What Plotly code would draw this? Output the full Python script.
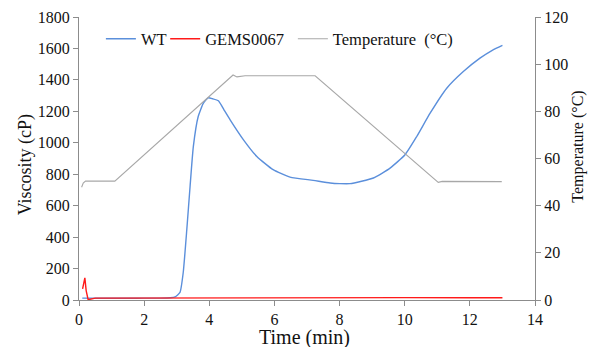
import plotly.graph_objects as go

# ---- data ----
wt_time = [0.1, 0.5, 1.0, 1.5, 2.0, 2.5, 2.8, 2.95, 3.1, 3.2, 3.31, 3.41, 3.51, 3.66, 3.82,
           3.97, 4.1, 4.28, 4.45, 4.64, 5.05, 5.46, 5.96, 6.48, 7.19, 7.71, 8.01, 8.32,
           9.04, 9.55, 10.01, 10.37, 10.78, 11.29, 11.80, 12.31, 12.7, 13.0]
wt_visc = [12, 11, 11, 11, 12, 12, 14, 20, 48, 175, 448, 722, 976, 1167, 1252,
           1286, 1280, 1267, 1210, 1146, 1019, 913, 829, 782, 761, 744, 740, 740,
           776, 839, 924, 1040, 1188, 1347, 1453, 1538, 1590, 1620]

gems_time = [0.11, 0.18, 0.22, 0.28, 0.5, 2.0, 4.0, 6.0, 8.0, 10.0, 12.0, 13.0]
gems_visc = [71, 141, 60, 2, 12, 13, 14, 16, 15, 15, 14, 14]

temp_time = [0.08, 0.13, 0.2, 0.6, 1.1, 4.73, 4.85, 5.1, 7.25, 11.03, 11.15, 12.98]
temp_val = [47.8, 49.6, 50.4, 50.5, 50.4, 95.4, 94.6, 95.1, 95.1, 49.9, 50.3, 50.2]

x_ticks = [0, 2, 4, 6, 8, 10, 12, 14]
y_ticks = [0, 200, 400, 600, 800, 1000, 1200, 1400, 1600, 1800]
y2_ticks = [0, 20, 40, 60, 80, 100, 120]

FONT = "Liberation Serif, Times New Roman, serif"
AX = "#8c8c8c"
TXT = "#111111"

fig = go.Figure()
fig.add_trace(go.Scatter(x=wt_time, y=wt_visc, mode="lines", name="WT",
                         line=dict(color="#5b8fdb", width=1.4, shape="spline", smoothing=0.5),
                         legend="legend"))
fig.add_trace(go.Scatter(x=gems_time, y=gems_visc, mode="lines", name="GEMS0067",
                         line=dict(color="#ff1a1a", width=1.4), legend="legend2"))
fig.add_trace(go.Scatter(x=temp_time, y=temp_val, mode="lines",
                         name="Temperature\u00a0\u00a0(°C)", yaxis="y2",
                         line=dict(color="#a8a8a8", width=1.1), legend="legend3"))


def axis_common():
    return dict(showgrid=False, zeroline=False, showline=True, linecolor=AX,
                linewidth=1, ticks="outside", ticklen=5, tickcolor=AX,
                automargin=False,
                tickfont=dict(family=FONT, size=16, color=TXT))


def leg_common(x):
    return dict(x=x, orientation="h", yanchor="middle", y=0.922, xanchor="left",
                font=dict(family=FONT, size=16.5, color=TXT),
                bgcolor="rgba(0,0,0,0)", borderwidth=0)


fig.update_layout(
    width=595, height=347,
    margin=dict(l=79, r=60, t=17, b=47),
    paper_bgcolor="white", plot_bgcolor="white",
    font=dict(family=FONT, color=TXT),
    xaxis=dict(range=[0, 14], tickvals=x_ticks, **axis_common()),
    yaxis=dict(range=[0, 1800], tickvals=y_ticks, **axis_common()),
    yaxis2=dict(range=[0, 120], tickvals=y2_ticks, overlaying="y", side="right",
                **axis_common()),
    legend=leg_common(0.048),
    legend2=leg_common(0.189),
    legend3=leg_common(0.469),
    showlegend=True,
    annotations=[
        dict(text="Time (min)", xref="paper", yref="paper", x=0.4956, y=-0.132,
             xanchor="center", yanchor="middle", showarrow=False,
             font=dict(family=FONT, size=20, color=TXT)),
        dict(text="Viscosity (cP)", xref="paper", yref="paper", x=-0.117, y=0.478,
             xanchor="center", yanchor="middle", showarrow=False, textangle=-90,
             font=dict(family=FONT, size=18, color=TXT)),
        dict(text="Temperature (°C)", xref="paper", yref="paper", x=1.095, y=0.543,
             xanchor="center", yanchor="middle", showarrow=False, textangle=-90,
             font=dict(family=FONT, size=16, color=TXT)),
    ],
)

fig.write_html("out.html", config={"displayModeBar": False},
               post_script="document.body.style.margin='0px';document.body.style.padding='0px';")
